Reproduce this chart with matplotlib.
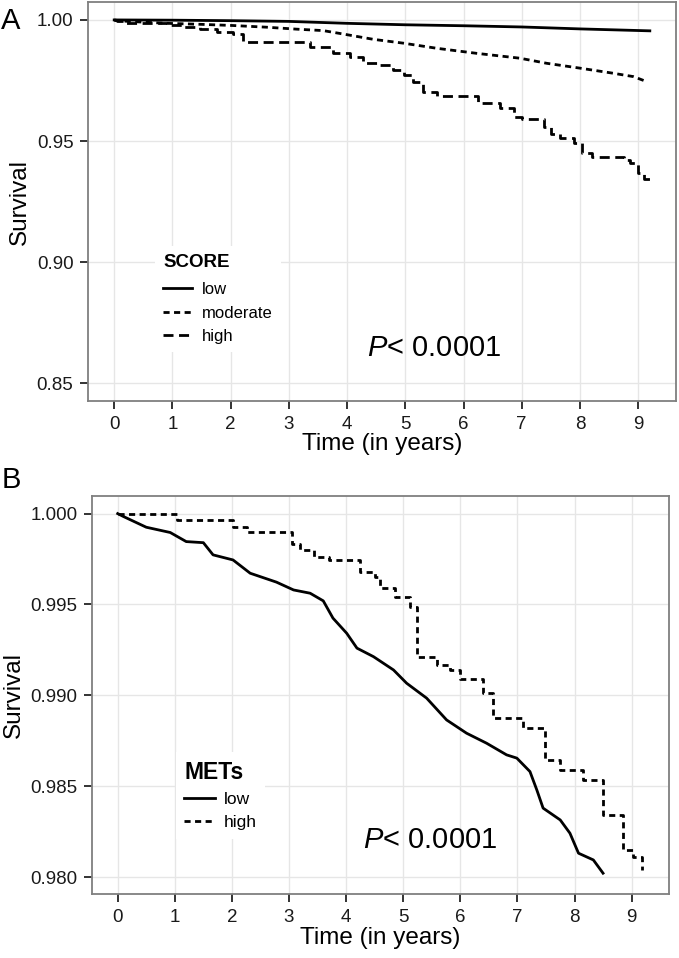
import matplotlib
matplotlib.use("Agg")
import matplotlib.pyplot as plt
from matplotlib.lines import Line2D

plt.rcParams['font.family'] = ['Liberation Sans', 'DejaVu Sans']
plt.rcParams['mathtext.fontset'] = 'custom'
plt.rcParams['mathtext.it'] = 'Liberation Sans:italic'
plt.rcParams['mathtext.rm'] = 'Liberation Sans'

# ---- panel A: SCORE groups ----
a_low_t = [0, 1, 2, 3, 4, 5, 6, 7, 8, 9.2]
a_low_s = [1.0, 0.9999, 0.9997, 0.9994, 0.9986, 0.9980, 0.9976, 0.9971, 0.9963, 0.9955]

a_mod_t = [0, 0.1, 0.9, 1.47, 2.04, 2.62, 3.13, 3.59, 3.93, 4.45, 4.97, 5.54, 6.23,
           6.97, 7.43, 8.0, 8.57, 8.92, 9.15]
a_mod_s = [1.0, 0.9996, 0.9986, 0.9982, 0.9977, 0.9970, 0.9962, 0.9956, 0.9942, 0.9920,
           0.9904, 0.9883, 0.9862, 0.9842, 0.9821, 0.9801, 0.9780, 0.9766, 0.9745]

a_high_t = [0, 0.05, 0.21, 0.9, 1.19, 1.47, 1.76, 2.04, 2.22, 3.36, 3.76, 4.05, 4.28, 4.51,
            4.79, 4.97, 5.14, 5.31, 5.54, 6.25, 6.63, 6.86, 7.0, 7.38, 7.5, 7.66, 7.89,
            8.03, 8.2, 8.75, 8.86, 9.0, 9.1, 9.2]
a_high_s = [1.0, 0.9996, 0.9986, 0.9979, 0.9970, 0.9963, 0.9952, 0.9941, 0.9908, 0.9890,
            0.9865, 0.9849, 0.9821, 0.9814, 0.9794, 0.9773, 0.9745, 0.9704, 0.9686, 0.9656,
            0.9635, 0.9600, 0.9590, 0.9560, 0.9530, 0.9512, 0.9491, 0.9452, 0.9436, 0.9420,
            0.9408, 0.9367, 0.9345, 0.9332]

# ---- panel B: METs groups ----
b_low_t = [0, 0.1, 0.5, 0.92, 1.2, 1.5, 1.67, 2.02, 2.32, 2.78, 3.08, 3.37, 3.6, 3.77,
           4.01, 4.19, 4.48, 4.83, 5.06, 5.41, 5.76, 6.11, 6.46, 6.81, 6.99, 7.22, 7.34,
           7.45, 7.75, 7.92, 8.07, 8.33, 8.5]
b_low_s = [1.0, 0.99984, 0.99925, 0.99896, 0.99846, 0.9984, 0.99773, 0.99745, 0.99672,
           0.99623, 0.9958, 0.99562, 0.9952, 0.99425, 0.99342, 0.9926, 0.99213, 0.9914,
           0.99067, 0.98985, 0.98865, 0.98792, 0.98737, 0.98673, 0.98655, 0.98581, 0.9848,
           0.9838, 0.98315, 0.98242, 0.98132, 0.98095, 0.98022]

b_high_t = [0, 1.03, 2.02, 2.26, 3.05, 3.2, 3.43, 3.7, 4.24, 4.51, 4.59, 4.86, 5.12, 5.25,
            5.59, 5.82, 6.0, 6.4, 6.58, 7.1, 7.48, 7.75, 8.15, 8.5, 8.85, 9.03, 9.18]
b_high_s = [1.0, 0.99965, 0.99928, 0.99901, 0.9983, 0.998, 0.9976, 0.99745, 0.99681,
            0.99653, 0.9959, 0.99543, 0.99488, 0.99213, 0.99168, 0.9914, 0.99089, 0.99012,
            0.98875, 0.9882, 0.98645, 0.9859, 0.98535, 0.98343, 0.9815, 0.98113, 0.9804]

x_ticks = list(range(10))
a_y_ticks = [0.85, 0.90, 0.95, 1.00]
b_y_ticks = [0.980, 0.985, 0.990, 0.995, 1.000]

solid = '-'
short_dash = (0, (2.2, 1.6))
long_dash = (0, (3.6, 2.0))


def style_axes(ax, xpad):
    ax.set_facecolor('white')
    ax.grid(True, color='#e6e6e6', linewidth=1.0)
    ax.set_axisbelow(True)
    for sp in ax.spines.values():
        sp.set_color('#7f7f7f')
        sp.set_linewidth(1.3)
    ax.tick_params(direction='out', length=5.5, width=1.4, color='#333333',
                   labelsize=13.5, labelcolor='#1a1a1a', pad=5)
    ax.set_xticks(x_ticks)
    ax.set_xlabel('Time (in years)', fontsize=17.5, labelpad=xpad)
    ax.set_ylabel('Survival', fontsize=17.5, labelpad=4)


fig = plt.figure(figsize=(6.79, 9.58), dpi=100)

# panel A
ax1 = fig.add_axes([0.1296, 0.5814, 0.866, 0.4165])
style_axes(ax1, 0)
ax1.plot(a_low_t, a_low_s, color='black', lw=2, linestyle=solid)
ax1.plot(a_mod_t, a_mod_s, color='black', lw=2, linestyle=short_dash)
ax1.plot(a_high_t, a_high_s, color='black', lw=2, linestyle=long_dash, drawstyle='steps-post')
ax1.set_xlim(-0.45, 9.65)
ax1.set_ylim(0.8427, 1.0074)
ax1.set_yticks(a_y_ticks)
ax1.set_yticklabels([f'{v:.2f}' for v in a_y_ticks])

handles_a = [Line2D([], [], color='black', lw=2, linestyle=solid),
             Line2D([], [], color='black', lw=2, linestyle=short_dash),
             Line2D([], [], color='black', lw=2, linestyle=long_dash)]
leg1 = ax1.legend(handles_a, ['low', 'moderate', 'high'], title='SCORE',
                  loc='upper left', bbox_to_anchor=(0.100, 0.410), frameon=True,
                  facecolor='white', edgecolor='none', framealpha=1, fancybox=False,
                  fontsize=12, title_fontproperties={'weight': 'bold', 'size': 13.5},
                  handlelength=1.7, handletextpad=0.6, labelspacing=0.5,
                  alignment='left', borderpad=0.5)
leg1._legend_box.sep = 8
ax1.text(0.474, 0.133, r'$P$< 0.0001', transform=ax1.transAxes, fontsize=21,
         ha='left', va='center')

# panel B
ax2 = fig.add_axes([0.1355, 0.0665, 0.8502, 0.4158])
style_axes(ax2, 1)
ax2.plot(b_low_t, b_low_s, color='black', lw=2, linestyle=solid)
ax2.plot(b_high_t, b_high_s, color='black', lw=2, linestyle=short_dash, drawstyle='steps-post')
ax2.set_xlim(-0.45, 9.66)
ax2.set_ylim(0.97906, 1.00097)
ax2.set_yticks(b_y_ticks)
ax2.set_yticklabels([f'{v:.3f}' for v in b_y_ticks])

handles_b = [Line2D([], [], color='black', lw=2, linestyle=solid),
             Line2D([], [], color='black', lw=2, linestyle=short_dash)]
leg2 = ax2.legend(handles_b, ['low', 'high'], title='METs',
                  loc='upper left', bbox_to_anchor=(0.130, 0.378), frameon=True,
                  facecolor='white', edgecolor='none', framealpha=1, fancybox=False,
                  fontsize=12.5, title_fontproperties={'weight': 'bold', 'size': 16.5},
                  handlelength=1.75, handletextpad=0.5, labelspacing=0.45,
                  alignment='left', borderpad=0.5)
ax2.text(0.469, 0.136, r'$P$< 0.0001', transform=ax2.transAxes, fontsize=21,
         ha='left', va='center')

fig.text(0.002, 1 - 21 / 958, 'A', fontsize=21, ha='left', va='center')
fig.text(0.002, 1 - 480 / 958, 'B', fontsize=21, ha='left', va='center')

fig.savefig('out.png', dpi=100)
